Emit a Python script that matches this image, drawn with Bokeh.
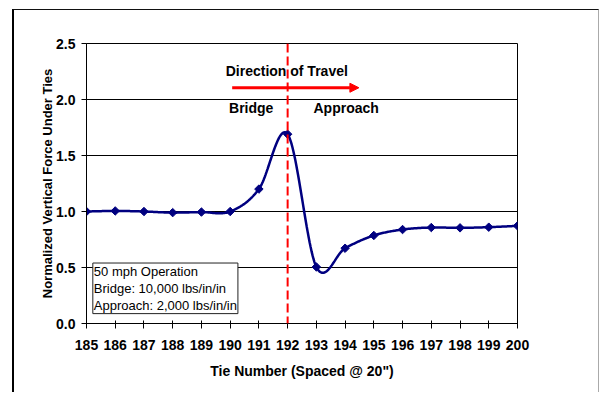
import numpy as np
from bokeh.plotting import figure
from bokeh.models import (FixedTicker, PrintfTickFormatter, Span, Arrow, NormalHead,
                          Label, Range1d)
from bokeh.embed import file_html
from bokeh.resources import INLINE

# ---- data ----
tie = [185, 186, 187, 188, 189, 190, 191, 192, 193, 194, 195, 196, 197, 198, 199, 200]
force = [1.00, 1.005, 1.00, 0.99, 0.995, 1.00, 1.20, 1.69, 0.505, 0.672, 0.786,
         0.839, 0.857, 0.854, 0.860, 0.872]
y_ticks = [0.0, 0.5, 1.0, 1.5, 2.0, 2.5]
x_ticks = list(range(185, 201))
bridge_end_tie = 192
note_lines = ["50 mph Operation", "Bridge: 10,000 lbs/in/in", "Approach: 2,000 lbs/in/in"]

FONT = "Liberation Sans"
NAVY = "#000080"
RED = "#ff0000"


def smooth(xs, ys, n=30):
    """Excel-like smoothed line (Catmull-Rom / cubic Bezier through the points)."""
    xs = np.asarray(xs, float)
    ys = np.asarray(ys, float)
    px, py = [], []
    m = len(xs)
    for i in range(m - 1):
        i0 = max(i - 1, 0)
        i3 = min(i + 2, m - 1)
        p0 = np.array([xs[i0], ys[i0]])
        p1 = np.array([xs[i], ys[i]])
        p2 = np.array([xs[i + 1], ys[i + 1]])
        p3 = np.array([xs[i3], ys[i3]])
        c1 = p1 + (p2 - p0) / 6.0
        c2 = p2 - (p3 - p1) / 6.0
        t = np.linspace(0, 1, n, endpoint=(i == m - 2))
        b = ((1 - t) ** 3)[:, None] * p1 + (3 * (1 - t) ** 2 * t)[:, None] * c1 + \
            (3 * (1 - t) * t ** 2)[:, None] * c2 + (t ** 3)[:, None] * p2
        px.extend(b[:, 0])
        py.extend(b[:, 1])
    return px, py


p = figure(width=584, height=382, output_backend="svg", toolbar_location=None,
           x_range=Range1d(185, 200), y_range=Range1d(0, 2.5),
           min_border_left=72, min_border_top=33, min_border_right=81, min_border_bottom=69,
           frame_width=431, frame_height=280)
p.margin = (9, 0, 0, 12)
p.styles = {"border-left": "2px solid black", "border-top": "1px solid #111",
            "border-right": "1px solid #aaa"}

p.background_fill_color = "white"
p.border_fill_color = "white"
p.outline_line_color = "black"
p.outline_line_width = 1

p.xgrid.visible = False
p.ygrid.grid_line_color = "black"
p.ygrid.grid_line_width = 1
p.ygrid.ticker = FixedTicker(ticks=y_ticks)

p.xaxis.ticker = FixedTicker(ticks=x_ticks)
p.yaxis.ticker = FixedTicker(ticks=y_ticks)
p.yaxis.formatter = PrintfTickFormatter(format="%.1f")
p.xaxis.formatter = PrintfTickFormatter(format="%d")

for ax in (p.xaxis[0], p.yaxis[0]):
    ax.axis_line_color = "black"
    ax.major_tick_line_color = "black"
    ax.minor_tick_line_color = None
    ax.major_label_text_font = FONT
    ax.major_label_text_font_style = "bold"
    ax.major_label_text_font_size = "14px"
    ax.major_label_text_color = "black"
    ax.axis_label_text_font = FONT
    ax.axis_label_text_font_style = "bold"
    ax.axis_label_text_color = "black"

p.xaxis.major_tick_in = 3
p.xaxis.major_tick_out = 5
p.yaxis.major_tick_in = 0
p.yaxis.major_tick_out = 5
p.xaxis.major_label_standoff = 11
p.yaxis.major_label_standoff = 6
p.xaxis.axis_label = "Tie Number (Spaced @ 20\")"
p.xaxis.axis_label_text_font_size = "14px"
p.xaxis.axis_label_standoff = 10
p.yaxis.axis_label = "Normalized Vertical Force Under Ties"
p.yaxis.axis_label_text_font_size = "13px"
p.yaxis.axis_label_standoff = -2

# dashed boundary line
p.add_layout(Span(location=bridge_end_tie, dimension="height", line_color=RED,
                  line_width=2, line_dash="9 4"))

# smoothed series and markers
sx, sy = smooth(tie, force)
p.line(sx, sy, line_color=NAVY, line_width=2.5)
p.scatter(tie, force, marker="square", angle=np.pi / 4, size=6,
          fill_color=NAVY, line_color=NAVY)

# direction arrow and labels
p.add_layout(Arrow(end=NormalHead(size=9, fill_color=RED, line_color=RED, line_width=1),
                   x_start=190.07, y_start=2.105, x_end=194.48, y_end=2.105,
                   line_color=RED, line_width=3))
p.add_layout(Label(x=191.97, y=2.255, text="Direction of Travel", text_align="center",
                   text_baseline="middle", text_font=FONT, text_font_style="bold",
                   text_font_size="14px", text_color="black"))
p.add_layout(Label(x=189.96, y=1.92, text="Bridge", text_align="left",
                   text_baseline="middle", text_font=FONT, text_font_style="bold",
                   text_font_size="14px", text_color="black"))
p.add_layout(Label(x=192.9, y=1.92, text="Approach", text_align="left",
                   text_baseline="middle", text_font=FONT, text_font_style="bold",
                   text_font_size="14px", text_color="black"))

# note box
p.add_layout(Label(x=185.22, y=0.54, text="\n".join(note_lines), text_align="left",
                   text_baseline="top", text_font=FONT, text_font_size="13px",
                   text_color="black", text_line_height=1.12,
                   background_fill_color="white", border_line_color="#222",
                   border_line_width=1, padding=1))

open("out.html", "w").write(file_html(p, INLINE))
